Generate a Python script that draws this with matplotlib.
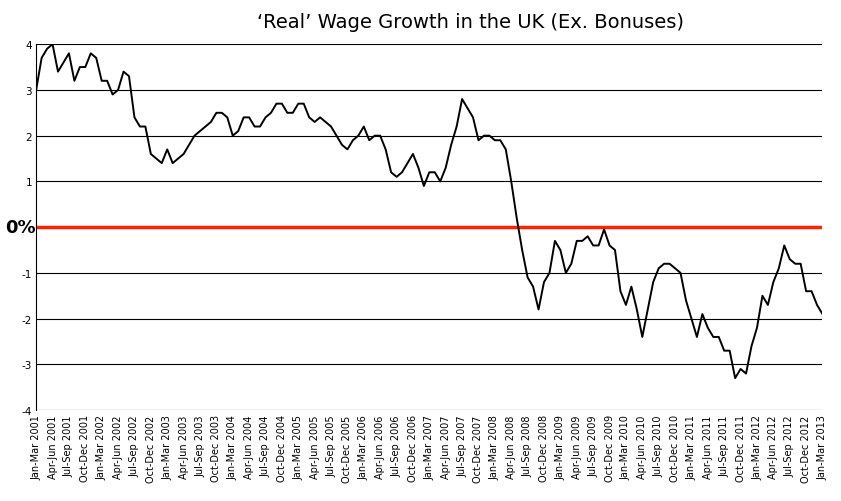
import matplotlib.pyplot as plt

# Rolling 3-month real wage growth (%), monthly from Jan-Mar 2001 to Jan-Mar 2013
y2001 = [3.0, 3.7, 3.9, 4.0, 3.4, 3.6, 3.8, 3.2, 3.5, 3.5, 3.8, 3.7]
y2002 = [3.2, 3.2, 2.9, 3.0, 3.4, 3.3, 2.4, 2.2, 2.2, 1.6, 1.5, 1.4]
y2003 = [1.7, 1.4, 1.5, 1.6, 1.8, 2.0, 2.1, 2.2, 2.3, 2.5, 2.5, 2.4]
y2004 = [2.0, 2.1, 2.4, 2.4, 2.2, 2.2, 2.4, 2.5, 2.7, 2.7, 2.5, 2.5]
y2005 = [2.7, 2.7, 2.4, 2.3, 2.4, 2.3, 2.2, 2.0, 1.8, 1.7, 1.9, 2.0]
y2006 = [2.2, 1.9, 2.0, 2.0, 1.7, 1.2, 1.1, 1.2, 1.4, 1.6, 1.3, 0.9]
y2007 = [1.2, 1.2, 1.0, 1.3, 1.8, 2.2, 2.8, 2.6, 2.4, 1.9, 2.0, 2.0]
y2008 = [1.9, 1.9, 1.7, 1.0, 0.2, -0.5, -1.1, -1.3, -1.8, -1.2, -1.0, -0.3]
y2009 = [-0.5, -1.0, -0.8, -0.3, -0.3, -0.2, -0.4, -0.4, -0.05, -0.4, -0.5, -1.4]
y2010 = [-1.7, -1.3, -1.8, -2.4, -1.8, -1.2, -0.9, -0.8, -0.8, -0.9, -1.0, -1.6]
y2011 = [-2.0, -2.4, -1.9, -2.2, -2.4, -2.4, -2.7, -2.7, -3.3, -3.1, -3.2, -2.6]
y2012 = [-2.2, -1.5, -1.7, -1.2, -0.9, -0.4, -0.7, -0.8, -0.8, -1.4, -1.4, -1.7]
y2013 = [-1.9, -1.9]

values = (y2001 + y2002 + y2003 + y2004 + y2005 + y2006 + y2007 + y2008
          + y2009 + y2010 + y2011 + y2012 + y2013)

quarters = ["Jan-Mar", "Apr-Jun", "Jul-Sep", "Oct-Dec"]
tick_labels = [f"{q} {yr}" for yr in range(2001, 2014) for q in quarters][:49]
tick_pos = [i * 3 for i in range(len(tick_labels))]

fig = plt.figure(figsize=(8.41, 5.02), dpi=100)
ax = fig.add_axes([0.043, 0.181, 0.935, 0.729])

for v in range(-4, 5):
    if v != 0:
        ax.axhline(v, color="black", lw=0.8, zorder=1)
ax.axhline(0, color="#ff2200", lw=2.5, zorder=2)

ax.plot(range(len(values)), values, color="black", lw=1.4, zorder=3)

ax.set_xlim(0, tick_pos[-1])
ax.set_ylim(-4, 4)
ax.set_xticks(tick_pos)
ax.set_xticklabels(tick_labels, rotation=90, fontsize=7)
ax.set_yticks(range(-4, 5))
ax.set_yticklabels([str(v) if v != 0 else "" for v in range(-4, 5)], fontsize=7.5)
ax.tick_params(length=0, pad=3)
for s in ax.spines.values():
    s.set_visible(False)
ax.spines["left"].set_visible(True)
ax.spines["left"].set_linewidth(0.8)

# "0%" label sits in the left margin, in figure coordinates horizontally
trans = plt.matplotlib.transforms.blended_transform_factory(fig.transFigure, ax.transData)
ax.text(0.006, 0, "0%", transform=trans, ha="left", va="center",
        fontsize=13, fontweight="bold")

fig.text(0.56, 0.955, "\u2018Real\u2019 Wage Growth in the UK (Ex. Bonuses)",
         ha="center", va="center", fontsize=14)

fig.savefig("out.png", dpi=100)
